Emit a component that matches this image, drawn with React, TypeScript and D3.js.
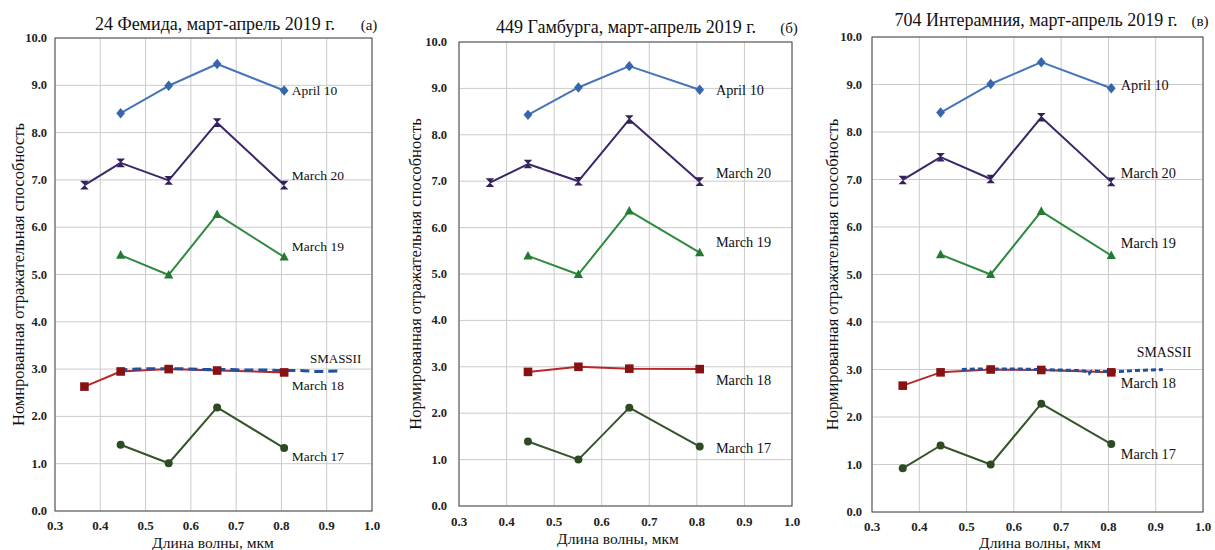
import React from "react";
import * as d3 from "d3";

// UBVRI effective wavelengths, µm
const wavelengths = [0.365, 0.445, 0.551, 0.658, 0.806];
const xTicks = [0.3, 0.4, 0.5, 0.6, 0.7, 0.8, 0.9, 1.0];
const yTicks = [0, 1, 2, 3, 4, 5, 6, 7, 8, 9, 10];

// 24 Фемида
const themisApr10 = [null, 8.41, 8.99, 9.45, 8.89];
const themisMar20 = [6.89, 7.36, 6.99, 8.21, 6.89];
const themisMar19 = [null, 5.41, 4.99, 6.27, 5.37];
const themisMar18 = [2.63, 2.95, 3.0, 2.97, 2.93];
const themisMar17 = [null, 1.4, 1.01, 2.19, 1.33];
const themisSmassX = [0.44, 0.48, 0.52, 0.56, 0.6, 0.64, 0.68, 0.72, 0.76, 0.8, 0.84, 0.88, 0.93];
const themisSmassY = [2.98, 3.0, 3.01, 3.01, 3.0, 2.99, 2.99, 2.98, 2.98, 2.97, 2.97, 2.95, 2.96];

// 449 Гамбурга
const hamburgaApr10 = [null, 8.43, 9.02, 9.48, 8.97];
const hamburgaMar20 = [6.97, 7.37, 7.0, 8.33, 6.99];
const hamburgaMar19 = [null, 5.39, 4.99, 6.36, 5.46];
const hamburgaMar18 = [null, 2.89, 3.0, 2.96, 2.95];
const hamburgaMar17 = [null, 1.39, 1.0, 2.12, 1.28];

// 704 Интерамния
const interamniaApr10 = [null, 8.41, 9.01, 9.47, 8.92];
const interamniaMar20 = [6.99, 7.47, 7.01, 8.31, 6.95];
const interamniaMar19 = [null, 5.42, 5.0, 6.33, 5.4];
const interamniaMar18 = [2.66, 2.94, 3.0, 2.99, 2.94];
const interamniaMar17 = [0.92, 1.4, 1.0, 2.28, 1.43];
const interamniaSmassX = [0.49, 0.53, 0.57, 0.61, 0.65, 0.69, 0.73, 0.75, 0.757, 0.765, 0.79, 0.82, 0.86, 0.89, 0.915];
const interamniaSmassY = [3.0, 3.01, 3.01, 3.01, 3.0, 2.99, 2.98, 2.97, 2.9, 2.97, 2.96, 2.96, 2.98, 2.99, 3.0];

const seriesNames = ["April 10", "March 20", "March 19", "March 18", "March 17"];
const smassName = "SMASSII";
const xTitle = "Длина волны, мкм";

type Marker = "diamond" | "hourglass" | "triangle" | "square" | "circle";
const styles: { line: string; fill: string; marker: Marker }[] = [
  { line: "#4574ba", fill: "#3766ad", marker: "diamond" },
  { line: "#3b2668", fill: "#35205f", marker: "hourglass" },
  { line: "#2f8a3e", fill: "#257a33", marker: "triangle" },
  { line: "#b8282a", fill: "#861213", marker: "square" },
  { line: "#34552a", fill: "#2d4a23", marker: "circle" },
];
const smassColor = "#22509c";

const FONT = "'Liberation Serif', 'Times New Roman', serif";

function markerPath(kind: Marker): string {
  switch (kind) {
    case "diamond":
      return "M0,-5.2L4.4,0L0,5.2L-4.4,0Z";
    case "hourglass":
      return "M-4.3,-4.3L4.3,-4.3L-4.3,4.3L4.3,4.3Z";
    case "triangle":
      return "M0,-5L4.6,3.6L-4.6,3.6Z";
    case "square":
      return "M-4.3,-4.3L4.3,-4.3L4.3,4.3L-4.3,4.3Z";
    default:
      return d3.symbol(d3.symbolCircle, 50)() as string;
  }
}

type PanelProps = {
  box: { left: number; right: number; top: number; bottom: number };
  title: string;
  tag: string;
  titleX: number;
  titleY: number;
  tagX: number;
  yTitle: string;
  yTitleX: number;
  yTickX: number;
  xTickY: number;
  xTitleX: number;
  xTitleY: number;
  values: (number | null)[][];
  labelX: number;
  labelY: number[];
  labelSize: number;
  smass?: { xs: number[]; ys: number[]; dash: string; labelX: number; labelY: number };
};

function Panel(p: PanelProps) {
  const x = d3.scaleLinear().domain([0.3, 1.0]).range([p.box.left, p.box.right]);
  const y = d3.scaleLinear().domain([0, 10]).range([p.box.bottom, p.box.top]);
  const fmt = d3.format(".1f");

  const line = d3
    .line<[number, number | null]>()
    .defined((d) => d[1] != null)
    .x((d) => x(d[0]))
    .y((d) => y(d[1] as number));

  const smassLine = d3
    .line<[number, number]>()
    .curve(d3.curveMonotoneX)
    .x((d) => x(d[0]))
    .y((d) => y(d[1]));

  return (
    <g fontFamily={FONT}>
      {/* grid */}
      {xTicks.map((t) => (
        <line key={"gx" + t} x1={x(t)} x2={x(t)} y1={y(0)} y2={y(10)} stroke="#cbcbcb" strokeWidth={1} />
      ))}
      {yTicks.map((t) => (
        <line key={"gy" + t} x1={x(0.3)} x2={x(1.0)} y1={y(t)} y2={y(t)} stroke="#cbcbcb" strokeWidth={1} />
      ))}
      <rect
        x={p.box.left}
        y={p.box.top}
        width={p.box.right - p.box.left}
        height={p.box.bottom - p.box.top}
        fill="none"
        stroke="#4a4a4a"
        strokeWidth={1}
      />

      {/* tick labels */}
      {yTicks.map((t) => (
        <text
          key={"ly" + t}
          x={p.yTickX}
          y={y(t)}
          textAnchor="end"
          dominantBaseline="central"
          fontSize={12.5}
          fontWeight="bold"
          fill="#222"
        >
          {fmt(t)}
        </text>
      ))}
      {xTicks.map((t) => (
        <text key={"lx" + t} x={x(t)} y={p.xTickY} textAnchor="middle" fontSize={13} fontWeight="bold" fill="#222">
          {fmt(t)}
        </text>
      ))}

      {/* titles */}
      <text x={p.titleX} y={p.titleY} textAnchor="middle" fontSize={18} fill="#111">
        {p.title}
      </text>
      <text x={p.tagX} y={p.titleY} textAnchor="middle" fontSize={15} fill="#111">
        {p.tag}
      </text>
      <text
        transform={`translate(${p.yTitleX},${(p.box.top + p.box.bottom) / 2}) rotate(-90)`}
        textAnchor="middle"
        dominantBaseline="central"
        fontSize={16.5}
        fill="#111"
      >
        {p.yTitle}
      </text>
      <text x={p.xTitleX} y={p.xTitleY} textAnchor="middle" fontSize={15.5} fill="#111">
        {xTitle}
      </text>

      {/* series lines */}
      {p.values.map((vals, i) => (
        <path
          key={"s" + i}
          d={line(wavelengths.map((w, j) => [w, vals[j]] as [number, number | null])) || ""}
          fill="none"
          stroke={styles[i].line}
          strokeWidth={2}
          strokeLinejoin="round"
        />
      ))}
      {p.smass && (
        <path
          d={smassLine(p.smass.xs.map((v, j) => [v, p.smass!.ys[j]] as [number, number])) || ""}
          fill="none"
          stroke={smassColor}
          strokeWidth={3}
          strokeDasharray={p.smass.dash}
        />
      )}

      {/* markers */}
      {p.values.map((vals, i) =>
        vals.map((v, j) =>
          v == null ? null : (
            <path
              key={"m" + i + "-" + j}
              d={markerPath(styles[i].marker)}
              transform={`translate(${x(wavelengths[j])},${y(v)})`}
              fill={styles[i].fill}
            />
          )
        )
      )}

      {/* series labels */}
      {p.values.map((_, i) => (
        <text
          key={"n" + i}
          x={x(p.labelX)}
          y={y(p.labelY[i])}
          dominantBaseline="central"
          fontSize={p.labelSize}
          fill="#111"
        >
          {seriesNames[i]}
        </text>
      ))}
      {p.smass && (
        <text
          x={x(p.smass.labelX)}
          y={y(p.smass.labelY)}
          dominantBaseline="central"
          fontSize={p.labelSize - 0.5}
          fill="#111"
        >
          {smassName}
        </text>
      )}
    </g>
  );
}

export default function App() {
  return (
    <svg width={1215} height={550} style={{ position: "absolute", left: 0, top: 0, background: "#fff" }}>
      <rect width={1215} height={550} fill="#fff" />
      <Panel
        box={{ left: 55, right: 372, top: 38, bottom: 511 }}
        title="24 Фемида, март-апрель 2019 г."
        tag="(а)"
        titleX={215}
        titleY={30}
        tagX={369}
        yTitle="Номнрованная отражательная способность"
        yTitleX={18}
        yTickX={47}
        xTickY={530}
        xTitleX={213}
        xTitleY={548}
        values={[themisApr10, themisMar20, themisMar19, themisMar18, themisMar17]}
        labelX={0.823}
        labelY={[8.9, 7.1, 5.6, 2.66, 1.16]}
        labelSize={13.5}
        smass={{ xs: themisSmassX, ys: themisSmassY, dash: "9,5", labelX: 0.863, labelY: 3.23 }}
      />
      <Panel
        box={{ left: 459, right: 792, top: 42, bottom: 506 }}
        title="449 Гамбурга, март-апрель 2019 г."
        tag="(б)"
        titleX={626}
        titleY={33}
        tagX={789}
        yTitle="Нормированная отражательная способность"
        yTitleX={415}
        yTickX={447}
        xTickY={526}
        xTitleX={618}
        xTitleY={544}
        values={[hamburgaApr10, hamburgaMar20, hamburgaMar19, hamburgaMar18, hamburgaMar17]}
        labelX={0.84}
        labelY={[8.97, 7.18, 5.69, 2.72, 1.25]}
        labelSize={14.3}
      />
      <Panel
        box={{ left: 872, right: 1203, top: 37, bottom: 512 }}
        title="704 Интерамния, март-апрель 2019 г."
        tag="(в)"
        titleX={1036}
        titleY={26}
        tagX={1200}
        yTitle="Нормированная отражательная способность"
        yTitleX={832}
        yTickX={862}
        xTickY={531}
        xTitleX={1040}
        xTitleY={548}
        values={[interamniaApr10, interamniaMar20, interamniaMar19, interamniaMar18, interamniaMar17]}
        labelX={0.826}
        labelY={[8.99, 7.14, 5.66, 2.72, 1.22]}
        labelSize={14.3}
        smass={{ xs: interamniaSmassX, ys: interamniaSmassY, dash: "5,3", labelX: 0.86, labelY: 3.35 }}
      />
    </svg>
  );
}
